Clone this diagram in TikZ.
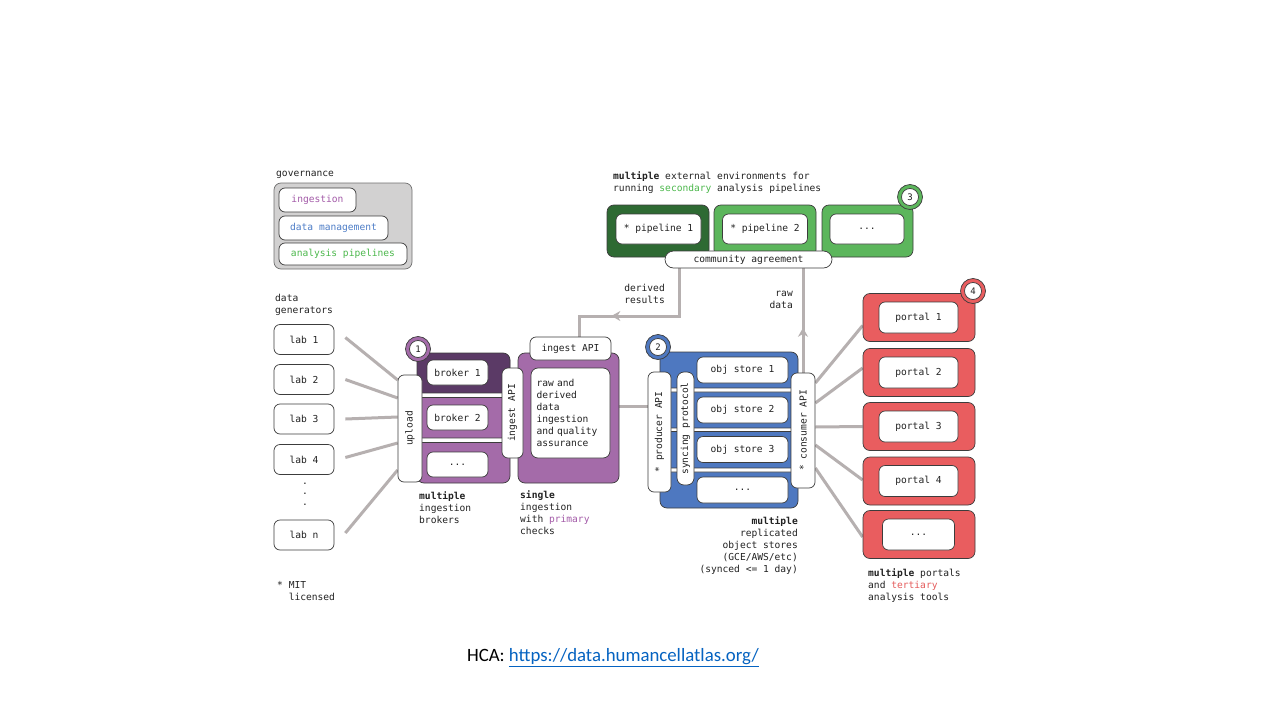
\documentclass[tikz,border=0pt]{standalone}
\usepackage{fontspec}
\setmainfont{Carlito}
\newfontfamily\monof{DejaVu Sans Mono}
\usetikzlibrary{arrows.meta,decorations.markings}
\pgfdeclarelayer{bg}
\pgfsetlayers{bg,main}
\definecolor{edge}{HTML}{3C3C3C}
\definecolor{txt}{HTML}{222222}
\definecolor{govfill}{HTML}{D2D1D1}
\definecolor{govedge}{HTML}{707070}
\definecolor{purpD}{HTML}{5B3A66}
\definecolor{purpL}{HTML}{A46BA9}
\definecolor{blueB}{HTML}{4E78C0}
\definecolor{greenD}{HTML}{2E6A33}
\definecolor{greenL}{HTML}{5CB65C}
\definecolor{redP}{HTML}{E95D5F}
\definecolor{gline}{HTML}{B6B0B0}
\definecolor{ingc}{HTML}{A35AA8}
\definecolor{dmc}{HTML}{4D7DC7}
\definecolor{apc}{HTML}{4CB84C}
\definecolor{terc}{HTML}{E55B5B}
\definecolor{link}{HTML}{0563C1}
\begin{document}
\begin{tikzpicture}[x=1pt,y=-1pt,
  every node/.style={font=\monof\fontsize{9.6}{12}\selectfont, text=txt},
  pill/.style={draw=edge, fill=white, rounded corners=6, line width=0.7, inner sep=0, align=center},
  panel/.style={draw=edge, rounded corners=7, line width=0.7, inner sep=0},
  gl/.style={draw=gline, line width=3},
  lbl/.style={inner sep=0, align=left, execute at begin node=\strut},
  lblr/.style={inner sep=0, align=right, execute at begin node=\strut},
  ring/.style={circle, draw=edge, line width=0.7, minimum size=25, inner sep=0},
  num/.style={circle, draw=edge, fill=white, line width=0.7, minimum size=17, inner sep=0, font=\monof\fontsize{9}{10}\selectfont},
  midarrow/.style={postaction={decorate}, decoration={markings, mark=at position #1 with {\arrow{Stealth[length=9pt,width=10pt]}}}}
]
\useasboundingbox (0,0) rectangle (1280,720);
\begin{pgfonlayer}{bg}
\fill[white] (0,0) rectangle (1280,720);
\end{pgfonlayer}

% ---------- governance ----------
\node[lbl, anchor=west] (govl) at (276,174) {governance};
\node[panel, fill=govfill, draw=govedge, minimum width=138, minimum height=86] (gov) at (343,226) {};
\node[pill, minimum width=77, minimum height=24, text=ingc] (gi) at (317.5,200) {ingestion};
\node[pill, minimum width=109, minimum height=24, text=dmc] (gd) at (333.5,228) {data management};
\node[pill, minimum width=128, minimum height=22, text=apc] (ga) at (343,254) {analysis pipelines};

% ---------- pipelines ----------
\node[lbl, anchor=north west] (topl) at (613,171.2) {\textbf{multiple} external environments for\\running \textcolor{apc}{secondary} analysis pipelines};
\node[panel, fill=greenD, minimum width=102, minimum height=52] (pe1) at (658,231) {};
\node[panel, fill=greenL, minimum width=102, minimum height=52] (pe2) at (765,231) {};
\node[panel, fill=greenL, minimum width=91, minimum height=52] (pe3) at (867.5,231) {};
\node[pill, minimum width=85, minimum height=30] (p1) at (658.5,229) {* pipeline 1};
\node[pill, minimum width=85, minimum height=30] (p2) at (765,229) {* pipeline 2};
\node[pill, minimum width=74, minimum height=30] (p3) at (867,229) {...};
\node[pill, rounded corners=8.5, minimum width=167, minimum height=17] (ca) at (748.5,259.5) {community agreement};
\node[ring, fill=greenL] (r3) at (910,197) {};
\node[num] (n3) at (r3) {3};

% ---------- labs ----------
\node[lbl, anchor=north west] (dgl) at (275,294.2) {data\\generators};
\node[pill, minimum width=60, minimum height=30] (lab1) at (304,339.5) {lab 1};
\node[pill, minimum width=60, minimum height=30] (lab2) at (304,379.5) {lab 2};
\node[pill, minimum width=60, minimum height=30] (lab3) at (304,419) {lab 3};
\node[pill, minimum width=60, minimum height=30] (lab4) at (304,459.5) {lab 4};
\node[inner sep=0, align=center, font=\monof\fontsize{9.6}{10.5}\selectfont] (dots) at (305,494) {.\\.\\.};
\node[pill, minimum width=60, minimum height=30] (labn) at (304,535) {lab n};
\node[lbl, anchor=north west] (mit) at (277,581.2) {* MIT\\\hphantom{*\ }licensed};

% ---------- brokers ----------
\node[panel, fill=purpL, minimum width=93, minimum height=130,
  path picture={
    \fill[purpD] (-60,-70) rectangle (60,-25);
    \draw[fill=white, draw=edge, line width=0.6] (-60,-25) rectangle (60,-20.5);
    \draw[fill=white, draw=edge, line width=0.6] (-60,20) rectangle (60,24.5);
  }] (brk) at (463.5,418) {};
\node[pill, minimum width=61, minimum height=25] (b1) at (457.5,372.5) {broker 1};
\node[pill, minimum width=61, minimum height=25] (b2) at (457.5,417.5) {broker 2};
\node[pill, minimum width=61, minimum height=25] (b3) at (457.5,464.5) {...};
\node[pill, rotate=90, minimum width=107, minimum height=24] (up) at (410,428.5) {upload};
\node[ring, fill=purpL] (r1) at (418,349) {};
\node[num] (n1) at (r1) {1};
\node[lbl, anchor=north west] (brkl) at (419,491.2) {\textbf{multiple}\\ingestion\\brokers};

% ---------- ingestion ----------
\node[panel, fill=purpL, minimum width=101, minimum height=130] (ing) at (568.5,418) {};
\node[pill, minimum width=81, minimum height=23] (ingapi) at (570.5,348.5) {ingest API};
\node[pill, rounded corners=7, minimum width=79, minimum height=90, text width=68, inner sep=5.5, align=left] (ingtxt) at (570.5,413) {raw and\\derived\\data\\ingestion\\and quality\\assurance};
\node[pill, rotate=90, minimum width=90, minimum height=21] (ingv) at (512.5,413) {ingest API};
\node[lbl, anchor=north west] (ingl) at (520,490.2) {\textbf{single}\\ingestion\\with \textcolor{ingc}{primary}\\checks};

% ---------- object stores ----------
\node[panel, fill=blueB, minimum width=138, minimum height=156,
  path picture={
    \draw[fill=white, draw=edge, line width=0.6] (-80,-42) rectangle (80,-38);
    \draw[fill=white, draw=edge, line width=0.6] (-80,-2) rectangle (80,1.5);
    \draw[fill=white, draw=edge, line width=0.6] (-80,38) rectangle (80,42);
  }] (os) at (729,430) {};
\node[pill, minimum width=91, minimum height=26] (o1) at (742.5,370) {obj store 1};
\node[pill, minimum width=91, minimum height=26] (o2) at (742.5,410) {obj store 2};
\node[pill, minimum width=91, minimum height=26] (o3) at (742.5,449.5) {obj store 3};
\node[pill, minimum width=91, minimum height=26] (o4) at (742.5,490) {...};
\node[pill, rotate=90, minimum width=120, minimum height=23] (prod) at (659.5,432) {* producer API};
\node[pill, rotate=90, rounded corners=7, minimum width=113, minimum height=17] (sync) at (685.5,428.5) {syncing protocol};
\node[pill, rotate=90, minimum width=115, minimum height=24] (cons) at (803,430.5) {* consumer API};
\node[ring, fill=blueB] (r2) at (658,347) {};
\node[num] (n2) at (r2) {2};
\node[lblr, anchor=north east] (osl) at (798,516.2) {\textbf{multiple}\\replicated\\object stores\\(GCE/AWS/etc)\\(synced <= 1 day)};

% ---------- portals ----------
\node[panel, fill=redP, minimum width=112, minimum height=48] (pt1) at (919,317.5) {};
\node[panel, fill=redP, minimum width=112, minimum height=48] (pt2) at (919,372.5) {};
\node[panel, fill=redP, minimum width=112, minimum height=48] (pt3) at (919,426.5) {};
\node[panel, fill=redP, minimum width=112, minimum height=48] (pt4) at (919,481) {};
\node[panel, fill=redP, minimum width=112, minimum height=48] (pt5) at (919,534.5) {};
\node[pill, minimum width=79, minimum height=31] (q1) at (918.5,317.5) {portal 1};
\node[pill, minimum width=79, minimum height=31] (q2) at (918.5,372.5) {portal 2};
\node[pill, minimum width=79, minimum height=31] (q3) at (918.5,426.5) {portal 3};
\node[pill, minimum width=79, minimum height=31] (q4) at (918.5,481) {portal 4};
\node[pill, minimum width=72, minimum height=31] (q5) at (918.5,534.5) {...};
\node[ring, fill=redP] (r4) at (973,291) {};
\node[num] (n4) at (r4) {4};
\node[lbl, anchor=north west] (ptl) at (868,568.2) {\textbf{multiple} portals\\and \textcolor{terc}{tertiary}\\analysis tools};

% ---------- arrow labels ----------
\node[lblr, anchor=north east] (dl) at (665,284.2) {derived\\results};
\node[lblr, anchor=north east] (rl) at (793,291.2) {raw\\data};

% ---------- caption ----------
\node[inner sep=0, font=\fontsize{18.8}{22}\selectfont, text=black] (hca) at (613,658) {HCA: \textcolor{link}{\underline{https://data.humancellatlas.org/}}};

% ---------- connectors ----------
\begin{pgfonlayer}{bg}
\coordinate (dx) at (679,0);
\coordinate (dbend) at (579,316);
\draw[gl, midarrow=0.64] (ca.south -| dx) |- (dbend) -- (ingapi.center -| dbend);
\draw[gl, midarrow=0.43] (cons.east) -- (cons.east |- ca.south);
\draw[gl] ([xshift=11,yshift=2]lab1.east) -- ([yshift=48.5]up.north);
\draw[gl] ([xshift=11]lab2.east) -- ([yshift=30.5]up.north);
\draw[gl] ([xshift=11]lab3.east) -- ([yshift=11.5]up.north);
\draw[gl] ([xshift=11,yshift=2]lab4.east) -- ([yshift=-14.5]up.north);
\draw[gl] ([xshift=11,yshift=2]labn.east) -- ([yshift=-41.5]up.north);
\draw[gl] ([yshift=12]ing.east) -- ([yshift=12]ing.east -| prod.center);
\draw[gl] ([yshift=47.5]cons.south) -- ([yshift=-8]pt1.west);
\draw[gl] ([yshift=27.5]cons.south) -- ([yshift=4.5]pt2.west);
\draw[gl] ([yshift=3.5]cons.south) -- (pt3.west);
\draw[gl] ([yshift=-14.5]cons.south) -- ([yshift=1]pt4.west);
\draw[gl] ([yshift=-37.5]cons.south) -- ([yshift=-2.5]pt5.west);
\end{pgfonlayer}
\end{tikzpicture}
\end{document}
